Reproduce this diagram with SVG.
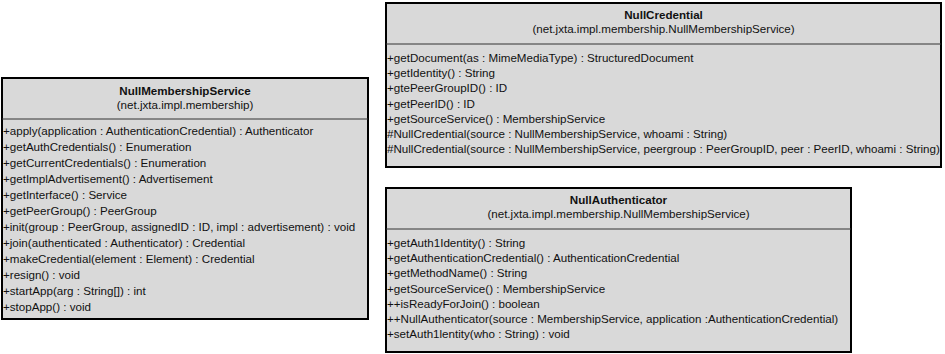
<svg xmlns="http://www.w3.org/2000/svg" width="945" height="354" viewBox="0 0 945 354">
<style>
.box{fill:#d9d9d9;stroke:#000;stroke-width:2}
.div{stroke:#333;stroke-width:1}
text{font-family:"Liberation Sans",Arial,sans-serif;font-size:11.6px;fill:#111}
.t{font-weight:bold;text-anchor:middle}
.s{text-anchor:middle}
</style>
<rect width="945" height="354" fill="#fff"/>
<g id="NullMembershipService">
<rect class="box" x="2" y="78" width="366" height="241"/>
<text class="t" x="185" y="95">NullMembershipService</text>
<text class="s" x="185" y="109">(net.jxta.impl.membership)</text>
<line class="div" x1="2" y1="119" x2="368" y2="119"/>
<text x="3" y="135">+apply(application : AuthenticationCredential) : Authenticator</text>
<text x="3" y="151">+getAuthCredentials() : Enumeration</text>
<text x="3" y="167">+getCurrentCredentials() : Enumeration</text>
<text x="3" y="183">+getImplAdvertisement() : Advertisement</text>
<text x="3" y="199">+getInterface() : Service</text>
<text x="3" y="215">+getPeerGroup() : PeerGroup</text>
<text x="3" y="231">+init(group : PeerGroup, assignedID : ID, impl : advertisement) : void</text>
<text x="3" y="247">+join(authenticated : Authenticator) : Credential</text>
<text x="3" y="263">+makeCredential(element : Element) : Credential</text>
<text x="3" y="279">+resign() : void</text>
<text x="3" y="295">+startApp(arg : String[]) : int</text>
<text x="3" y="311">+stopApp() : void</text>
</g>
<g id="NullCredential">
<rect class="box" x="386" y="3" width="555" height="164"/>
<text class="t" x="663.5" y="19">NullCredential</text>
<text class="s" x="663.5" y="33">(net.jxta.impl.membership.NullMembershipService)</text>
<line class="div" x1="386" y1="44" x2="941" y2="44"/>
<text x="387" y="62">+getDocument(as : MimeMediaType) : StructuredDocument</text>
<text x="387" y="77.2">+getIdentity() : String</text>
<text x="387" y="92.4">+gtePeerGroupID() : ID</text>
<text x="387" y="107.6">+getPeerID() : ID</text>
<text x="387" y="122.8">+getSourceService() : MembershipService</text>
<text x="387" y="138">#NullCredential(source : NullMembershipService, whoami : String)</text>
<text x="387" y="153.2">#NullCredential(source : NullMembershipService, peergroup : PeerGroupID, peer : PeerID, whoami : String)</text>
</g>
<g id="NullAuthenticator">
<rect class="box" x="386" y="188" width="465" height="164"/>
<text class="t" x="618.5" y="204">NullAuthenticator</text>
<text class="s" x="618.5" y="218">(net.jxta.impl.membership.NullMembershipService)</text>
<line class="div" x1="386" y1="229" x2="851" y2="229"/>
<text x="387" y="247">+getAuth1Identity() : String</text>
<text x="387" y="262.2">+getAuthenticationCredential() : AuthenticationCredential</text>
<text x="387" y="277.4">+getMethodName() : String</text>
<text x="387" y="292.6">+getSourceService() : MembershipService</text>
<text x="387" y="307.8">++isReadyForJoin() : boolean</text>
<text x="387" y="323">++NullAuthenticator(source : MembershipService, application :AuthenticationCredential)</text>
<text x="387" y="338.2">+setAuth1lentity(who : String) : void</text>
</g>
<g id="connectors"></g>
</svg>
